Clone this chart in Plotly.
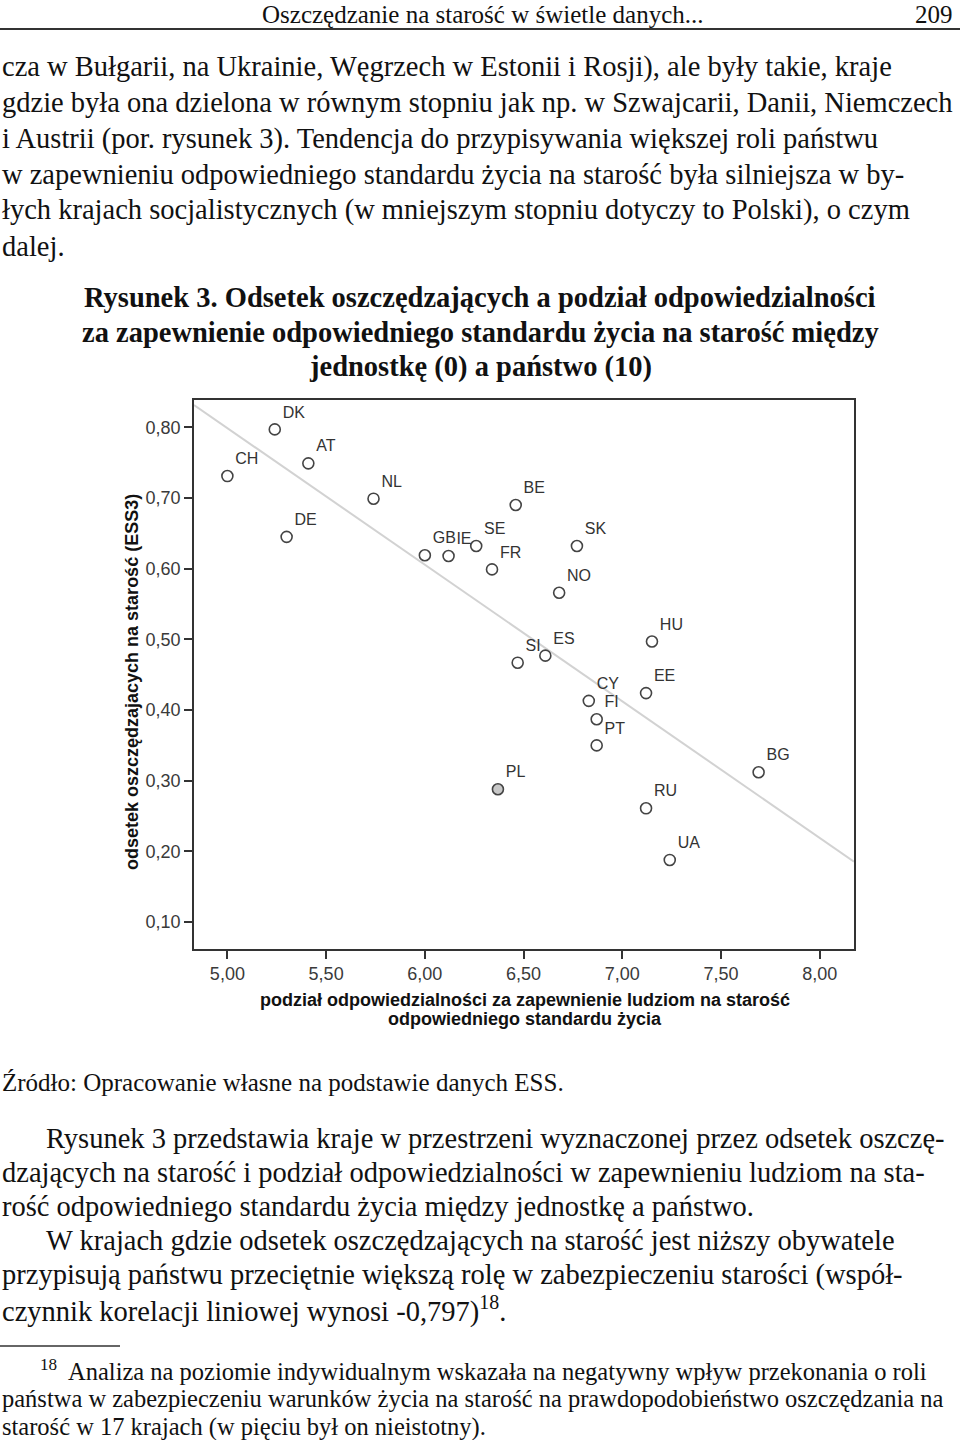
import plotly.graph_objects as go

W, H = 960, 1440

# ---------------- data ----------------
countries = ["CH", "DK", "AT", "NL", "DE", "BE", "GB", "IE", "SE", "FR", "SK", "NO",
             "HU", "ES", "SI", "CY", "EE", "FI", "PT", "BG", "PL", "RU", "UA"]
responsibility = [5.00, 5.24, 5.41, 5.74, 5.30, 6.46, 6.00, 6.12, 6.26, 6.34, 6.77, 6.68,
                  7.15, 6.61, 6.47, 6.83, 7.12, 6.87, 6.87, 7.69, 6.37, 7.12, 7.24]
savers = [0.731, 0.797, 0.749, 0.699, 0.645, 0.690, 0.619, 0.618, 0.632, 0.599, 0.632, 0.566,
          0.497, 0.477, 0.467, 0.413, 0.424, 0.387, 0.350, 0.312, 0.288, 0.261, 0.188]
fit_x = [4.831, 8.173]
fit_y = [0.8315, 0.1856]

x_ticks = [5.0, 5.5, 6.0, 6.5, 7.0, 7.5, 8.0]
y_ticks = [0.1, 0.2, 0.3, 0.4, 0.5, 0.6, 0.7, 0.8]

header = "Oszczędzanie na starość w świetle danych..."
page_no = "209"
body_lines = [
    "cza w Bułgarii, na Ukrainie, Węgrzech w Estonii i Rosji), ale były takie, kraje",
    "gdzie była ona dzielona w równym stopniu jak np. w Szwajcarii, Danii, Niemczech",
    "i Austrii (por. rysunek 3). Tendencja do przypisywania większej roli państwu",
    "w zapewnieniu odpowiedniego standardu życia na starość była silniejsza w by-",
    "łych krajach socjalistycznych (w mniejszym stopniu dotyczy to Polski), o czym",
    "dalej.",
]
caption_lines = [
    "Rysunek 3. Odsetek oszczędzających a podział odpowiedzialności",
    "za zapewnienie odpowiedniego standardu życia na starość między",
    "jednostkę (0) a państwo (10)",
]
source_line = "Źródło: Opracowanie własne na podstawie danych ESS."
para_lines = [
    ("Rysunek 3 przedstawia kraje w przestrzeni wyznaczonej przez odsetek oszczę-", True),
    ("dzających na starość i podział odpowiedzialności w zapewnieniu ludziom na sta-", False),
    ("rość odpowiedniego standardu życia między jednostkę a państwo.", False),
    ("W krajach gdzie odsetek oszczędzających na starość jest niższy obywatele", True),
    ("przypisują państwu przeciętnie większą rolę w zabezpieczeniu starości (współ-", False),
    ("czynnik korelacji liniowej wynosi -0,797)<sup>18</sup>.", False),
]
foot_lines = [
    ("<sup>18</sup>  Analiza na poziomie indywidualnym wskazała na negatywny wpływ przekonania o roli", True),
    ("państwa w zabezpieczeniu warunków życia na starość na prawdopodobieństwo oszczędzania na", False),
    ("starość w 17 krajach (w pięciu był on nieistotny).", False),
]
y_title = "odsetek oszczędzajacych na starość (ESS3)"
x_title_lines = ["podział odpowiedzialności za zapewnienie ludziom na starość",
                 "odpowiedniego standardu życia"]

# ---------------- helpers ----------------
def px(v):
    return v / W

def py(v):
    return 1 - v / H

SERIF = "Liberation Serif, DejaVu Serif, serif"
SANS = "Liberation Sans, Arial, sans-serif"

fig = go.Figure()

fig.add_trace(go.Scatter(
    x=fit_x, y=fit_y, mode="lines",
    line=dict(color="#d2d2d2", width=2),
    hoverinfo="skip", showlegend=False,
))

fill = ["#c8c8c8" if c == "PL" else "white" for c in countries]
fig.add_trace(go.Scatter(
    x=responsibility, y=savers, mode="markers+text",
    text=countries, textposition="top right",
    textfont=dict(family=SANS, size=16, color="#333333"),
    marker=dict(symbol="circle", size=11, color=fill,
                line=dict(color="#444444", width=1.6)),
    showlegend=False,
))

axis_common = dict(
    showline=True, mirror=True, linecolor="#333333", linewidth=1.5,
    ticks="outside", ticklen=8, tickwidth=1.5, tickcolor="#333333",
    showgrid=False, zeroline=False,
    tickfont=dict(family=SANS, size=18, color="#3a3a3a"),
    tickformat=".2f",
)

fig.update_layout(
    width=W, height=H,
    margin=dict(l=0, r=0, t=0, b=0),
    paper_bgcolor="white", plot_bgcolor="white",
    separators=", ",
    xaxis=dict(domain=[px(194), px(854)], range=[4.831, 8.173],
               tickvals=x_ticks, **axis_common),
    yaxis=dict(domain=[py(949), py(400)], range=[0.062, 0.8386],
               tickvals=y_ticks, **axis_common),
)

ann = []

def text(t, x, y, size=28, family=SERIF, xanchor="left", color="#111111", bold=False, angle=0):
    if bold:
        t = "<b>" + t + "</b>"
    ann.append(dict(text=t, x=px(x), y=py(y), xref="paper", yref="paper",
                    xanchor=xanchor, yanchor="middle", showarrow=False,
                    textangle=angle,
                    font=dict(family=family, size=size, color=color)))

# header
text(header, 482, 15, size=25, xanchor="center")
text(page_no, 955, 15, size=25, xanchor="right")

# body
for i, line in enumerate(body_lines):
    text(line, 0, 67 + i * 35.8, size=28.5)

# caption
for i, line in enumerate(caption_lines):
    text(line, 480, 297 + i * 35, size=28.5, xanchor="center", bold=True)

# axis titles
text(y_title, 132, 682, size=18, family=SANS, xanchor="center", bold=True, angle=-90)
for i, line in enumerate(x_title_lines):
    text(line, 525, 1000 + i * 19, size=18, family=SANS, xanchor="center", bold=True)

# source
text(source_line, 0, 1082, size=25)

# paragraph
for i, (line, indent) in enumerate(para_lines):
    text(line, 44 if indent else 0, 1138 + i * 34.3, size=28.5)

# footnote
for i, (line, indent) in enumerate(foot_lines):
    text(line, 38 if indent else 0, 1370 + i * 28.5, size=24.5)

fig.update_layout(annotations=ann)

# rules
fig.add_shape(type="line", xref="paper", yref="paper", x0=0, x1=1, y0=py(29), y1=py(29),
              line=dict(color="#333333", width=2))
fig.add_shape(type="line", xref="paper", yref="paper", x0=0, x1=px(120), y0=py(1346), y1=py(1346),
              line=dict(color="#333333", width=1.5))

fig.write_html("out.html")
